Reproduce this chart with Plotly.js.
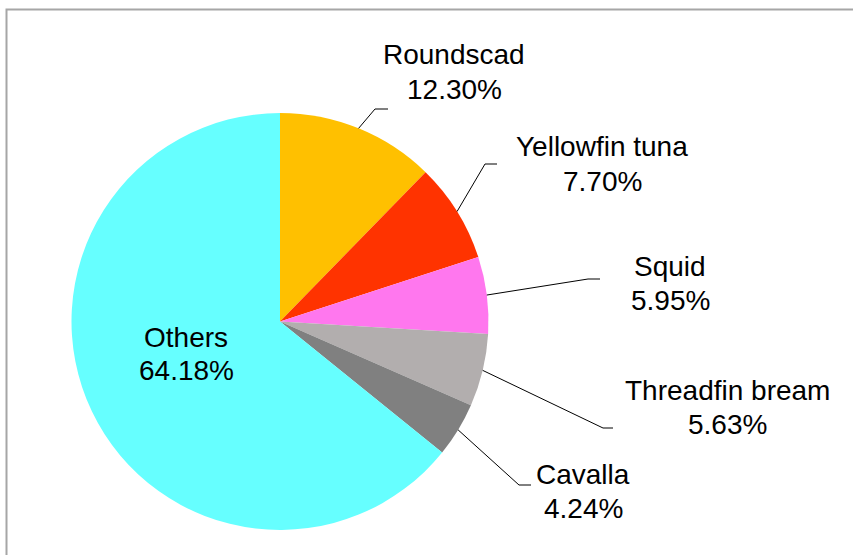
<!DOCTYPE html>
<html>
<head>
<meta charset="utf-8">
<script src="https://cdn.plot.ly/plotly-3.0.1.min.js"></script>
<style>html,body{margin:0;padding:0;background:#fff}#chart{width:853px;height:555px}</style>
</head>
<body>
<div id="chart"></div>
<script>
// ---- data ----
var categories = ["Roundscad", "Yellowfin tuna", "Squid", "Threadfin bream", "Cavalla", "Others"];
var shares = [12.30, 7.70, 5.95, 5.63, 4.24, 64.18];
var percentLabels = ["12.30%", "7.70%", "5.95%", "5.63%", "4.24%", "64.18%"];

// ---- styling / layout config ----
var colors = ["#FFC000", "#FF3300", "#FF77EE", "#B2AEAE", "#808080", "#66FFFF"];
var W = 853, H = 555;
var pieCx = 280, pieCy = 321.5, pieR = 208.5;   // pixel geometry of pie domain
// label layout: text centre + leader elbow/end (pixels); null leader => label inside slice
var labelLayout = [
  {tx: 454, ty: 73,  elbow: [375, 109], end: [388, 109]},
  {tx: 602, ty: 165, elbow: [485, 164], end: [497, 164]},
  {tx: 670, ty: 284, elbow: [588, 279], end: [600, 279]},
  {tx: 727, ty: 408, elbow: [603, 428], end: [613, 428]},
  {tx: 583, ty: 492, elbow: [519, 485], end: [531, 485]},
  {tx: 186, ty: 355, elbow: null, end: null}
];
var FONT = "Liberation Sans, Arial, sans-serif";
var FS = 28;
var LINE_GAP = 34;

function px(x) { return x / W; }
function py(y) { return 1 - y / H; }

var total = shares.reduce(function (a, b) { return a + b; }, 0);
var annotations = [];
var shapes = [];
var cum = 0;
shares.forEach(function (v, i) {
  var mid = (cum + v / 2) / total * 2 * Math.PI; // clockwise from 12 o'clock
  cum += v;
  var L = labelLayout[i];
  [categories[i], percentLabels[i]].forEach(function (t, k) {
    annotations.push({
      xref: "paper", yref: "paper", x: px(L.tx),
      y: py(L.ty + (k === 0 ? -LINE_GAP / 2 : LINE_GAP / 2) - 1),
      xanchor: "center", yanchor: "middle", showarrow: false,
      text: t,
      font: {family: FONT, size: FS, color: "#000"}, align: "center"
    });
  });
  if (L.elbow) {
    var sx = pieCx + pieR * Math.sin(mid), sy = pieCy - pieR * Math.cos(mid);
    shapes.push({
      type: "path", xref: "paper", yref: "paper",
      path: "M " + px(sx) + "," + py(sy) + " L " + px(L.elbow[0]) + "," + py(L.elbow[1]) +
            " L " + px(L.end[0]) + "," + py(L.end[1]),
      line: {color: "#000", width: 1}
    });
  }
});
// outer chart border
shapes.push({type: "rect", xref: "paper", yref: "paper",
  x0: px(6.5), y0: py(9.5), x1: px(870), y1: py(570),
  line: {color: "#A6A6A6", width: 2}, layer: "below"});

var trace = {
  type: "pie",
  labels: categories,
  values: shares,
  sort: false,
  direction: "clockwise",
  rotation: 0,
  marker: {colors: colors, line: {width: 0}},
  textinfo: "none",
  hoverinfo: "label+percent",
  showlegend: false,
  domain: {
    x: [px(pieCx - pieR), px(pieCx + pieR)],
    y: [py(pieCy + pieR), py(pieCy - pieR)]
  }
};

var layout = {
  width: W, height: H,
  margin: {l: 0, r: 0, t: 0, b: 0},
  paper_bgcolor: "#fff",
  showlegend: false,
  annotations: annotations,
  shapes: shapes,
  font: {family: FONT}
};

Plotly.newPlot("chart", [trace], layout, {displayModeBar: false, staticPlot: true});
</script>
</body>
</html>
